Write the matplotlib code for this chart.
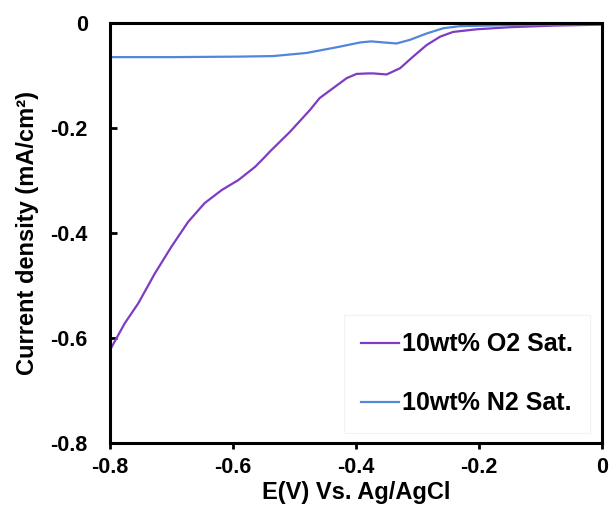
import matplotlib
matplotlib.use("Agg")
import matplotlib.pyplot as plt

plt.rcParams['font.family'] = ['Liberation Sans', 'DejaVu Sans']
plt.rcParams['font.weight'] = 'bold'
plt.rcParams['axes.unicode_minus'] = False

# datos
o2_x = [-0.800, -0.776, -0.754, -0.727, -0.700, -0.673, -0.646, -0.618, -0.591,
        -0.564, -0.548, -0.540, -0.507, -0.475, -0.459, -0.437, -0.415, -0.399,
        -0.380, -0.372, -0.350, -0.328, -0.307, -0.285, -0.263, -0.242, -0.204,
        -0.150, -0.080, 0.000]
o2_y = [-0.623, -0.572, -0.534, -0.477, -0.426, -0.379, -0.343, -0.318, -0.299,
        -0.274, -0.255, -0.245, -0.207, -0.166, -0.143, -0.124, -0.105, -0.097,
        -0.096, -0.096, -0.098, -0.086, -0.064, -0.042, -0.026, -0.017, -0.012,
        -0.008, -0.005, -0.003]

n2_x = [-0.800, -0.700, -0.589, -0.535, -0.480, -0.426, -0.393, -0.375, -0.355,
        -0.334, -0.312, -0.285, -0.258, -0.231, -0.150, 0.000]
n2_y = [-0.065, -0.065, -0.064, -0.063, -0.057, -0.045, -0.037, -0.035, -0.037,
        -0.039, -0.032, -0.020, -0.010, -0.006, -0.004, -0.002]

x_ticks = [-0.8, -0.6, -0.4, -0.2, 0]
x_labels = ["-0.8", "-0.6", "-0.4", "-0.2", "0"]
y_ticks = [-0.8, -0.6, -0.4, -0.2, 0]
y_labels = ["-0.8", "-0.6", "-0.4", "-0.2", "0"]

fig = plt.figure(figsize=(6.11, 5.23), dpi=100)
ax = fig.add_axes([0.180, 0.153, 0.805, 0.803])

ax.plot(o2_x, o2_y, color="#7E3CC2", lw=1.6, label="10wt% O2 Sat.")
ax.plot(n2_x, n2_y, color="#5286DA", lw=1.6, label="10wt% N2 Sat.")

ax.set_xlim(-0.8, 0)
ax.set_ylim(-0.8, 0)
ax.set_xticks(x_ticks)
ax.set_xticklabels(x_labels)
ax.set_yticks(y_ticks)
ax.set_yticklabels(y_labels)

for s in ax.spines.values():
    s.set_linewidth(2.2)

ax.tick_params(axis="x", direction="out", length=4, width=2, pad=6, labelsize=15.5)
ax.tick_params(axis="y", direction="in", length=5, width=2, pad=16, labelsize=15.5)

ax.set_xlabel("E(V) Vs. Ag/AgCl", fontsize=17, fontweight="bold", labelpad=2)
ax.set_ylabel("Current density (mA/cm²)", fontsize=17, fontweight="bold", labelpad=8)

leg = ax.legend(loc="lower right", bbox_to_anchor=(0.976, 0.024), fontsize=18,
                handlelength=1.5, handletextpad=0.12, labelspacing=1.4,
                borderpad=0.7, borderaxespad=0, fancybox=False, framealpha=1)
leg.get_frame().set_edgecolor("#F2F2F2")
leg.get_frame().set_linewidth(0.8)

fig.savefig("out.png", dpi=100)
